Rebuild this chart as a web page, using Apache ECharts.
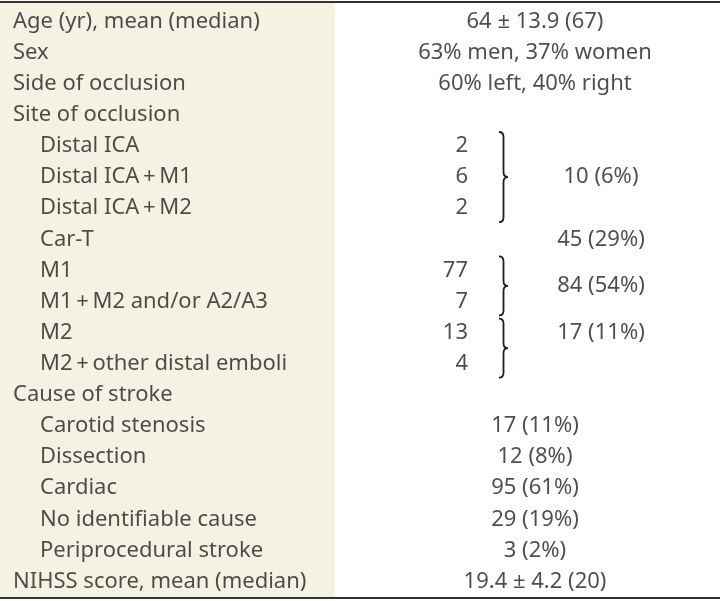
<!DOCTYPE html>
<html>
<head>
<meta charset="utf-8">
<script src="https://cdn.jsdelivr.net/npm/echarts@6/dist/echarts.min.js"></script>
<style>
  html, body { margin: 0; padding: 0; background: #fff; }
  #chart { width: 720px; height: 601px; }
</style>
</head>
<body>
<div id="chart"></div>
<script>
// table rows, top to bottom
const rowLabels = [
  'Age (yr), mean (median)',
  'Sex',
  'Side of occlusion',
  'Site of occlusion',
  'Distal ICA',
  'Distal ICA\u2009+\u2009M1',
  'Distal ICA\u2009+\u2009M2',
  'Car-T',
  'M1',
  'M1\u2009+\u2009M2 and/or A2/A3',
  'M2',
  'M2\u2009+\u2009other distal emboli',
  'Cause of stroke',
  'Carotid stenosis',
  'Dissection',
  'Cardiac',
  'No identifiable cause',
  'Periprocedural stroke',
  'NIHSS score, mean (median)'
]
const rowIndent = [0, 0, 0, 0, 1, 1, 1, 1, 1, 1, 1, 1, 0, 1, 1, 1, 1, 1, 0]
const rowValues = [
  '64 \u00b1 13.9 (67)', '63% men, 37% women', '60% left, 40% right', '',
  '', '', '', '', '', '', '', '', '',
  '17 (11%)', '12 (8%)', '95 (61%)', '29 (19%)', '3 (2%)', '19.4 \u00b1 4.2 (20)'
]
const rowCounts = ['', '', '', '', '2', '6', '2', '', '77', '7', '13', '4', '', '', '', '', '', '', '']
// grouped totals: first row, last row, row of the total text, text
const groups = [
  { from: 4, to: 6, at: 5, text: '10 (6%)' },
  { from: 7, to: 7, at: 7, text: '45 (29%)' },
  { from: 8, to: 9, at: 8.5, text: '84 (54%)' },
  { from: 10, to: 11, at: 10, text: '17 (11%)' }
]

const X_LABEL = 13
const X_INDENT = 40
const X_COUNT = 468
const X_VALUE = 535
const X_BRACE = 499
const X_GROUP = 601
const LEFT_COL_W = 335
const INK = '#231f20'
const FONT = 'Noto Sans'
const FS = 22

const chart = echarts.init(document.getElementById('chart'))

const labelData = rowLabels.map((t, i) => ({
  value: [rowIndent[i] ? X_INDENT : X_LABEL, i],
  label: { formatter: t }
}))
const valueData = rowValues
  .map((t, i) => ({ value: [X_VALUE, i], label: { formatter: t } }))
  .filter((d) => d.label.formatter)
const countData = rowCounts
  .map((t, i) => ({ value: [X_COUNT, i], label: { formatter: t } }))
  .filter((d) => d.label.formatter)
const groupData = groups.map((g) => ({
  value: [X_GROUP, g.at],
  label: { formatter: g.text }
}))

function textSeries(name, data, align) {
  return {
    name,
    type: 'scatter',
    symbolSize: 0,
    silent: true,
    data,
    label: {
      show: true,
      position: 'inside',
      align,
      verticalAlign: 'middle',
      color: INK,
      fontFamily: FONT,
      fontSize: FS
    }
  }
}

chart.setOption({
  animation: false,
  grid: { left: 0, right: 0, top: 6, bottom: 4 },
  xAxis: { type: 'value', min: 0, max: 720, show: false },
  yAxis: {
    type: 'value',
    min: -0.5,
    max: rowLabels.length - 0.5,
    inverse: true,
    show: false
  },
  graphic: [
    { type: 'rect', z: -10, shape: { x: 0, y: 3, width: LEFT_COL_W, height: 594 }, style: { fill: '#f5f1e3' } },
    { type: 'rect', shape: { x: 0, y: 1, width: 720, height: 2 }, style: { fill: '#333' } },
    { type: 'rect', shape: { x: 0, y: 597, width: 720, height: 2 }, style: { fill: '#333' } }
  ],
  series: [
    textSeries('labels', labelData, 'left'),
    textSeries('values', valueData, 'center'),
    textSeries('counts', countData, 'right'),
    textSeries('groups', groupData, 'center'),
    {
      name: 'braces',
      type: 'custom',
      silent: true,
      data: groups.filter((g) => g.to > g.from).map((g) => [g.from, g.to]),
      renderItem: (params, api) => {
        const top = api.coord([X_BRACE, api.value(0) - 0.45])
        const bot = api.coord([X_BRACE, api.value(1) + 0.45])
        const x0 = top[0]
        const y0 = top[1]
        const y1 = bot[1]
        const mid = (y0 + y1) / 2
        const w = 9
        const r = 5
        const xm = x0 + w / 2
        const d =
          `M${x0} ${y0} Q${xm} ${y0} ${xm} ${y0 + r} ` +
          `L${xm} ${mid - r} Q${xm} ${mid} ${x0 + w} ${mid} ` +
          `Q${xm} ${mid} ${xm} ${mid + r} ` +
          `L${xm} ${y1 - r} Q${xm} ${y1} ${x0} ${y1}`
        return {
          type: 'path',
          shape: { pathData: d },
          style: { fill: 'none', stroke: INK, lineWidth: 1.8 }
        }
      }
    }
  ]
})
</script>
</body>
</html>
